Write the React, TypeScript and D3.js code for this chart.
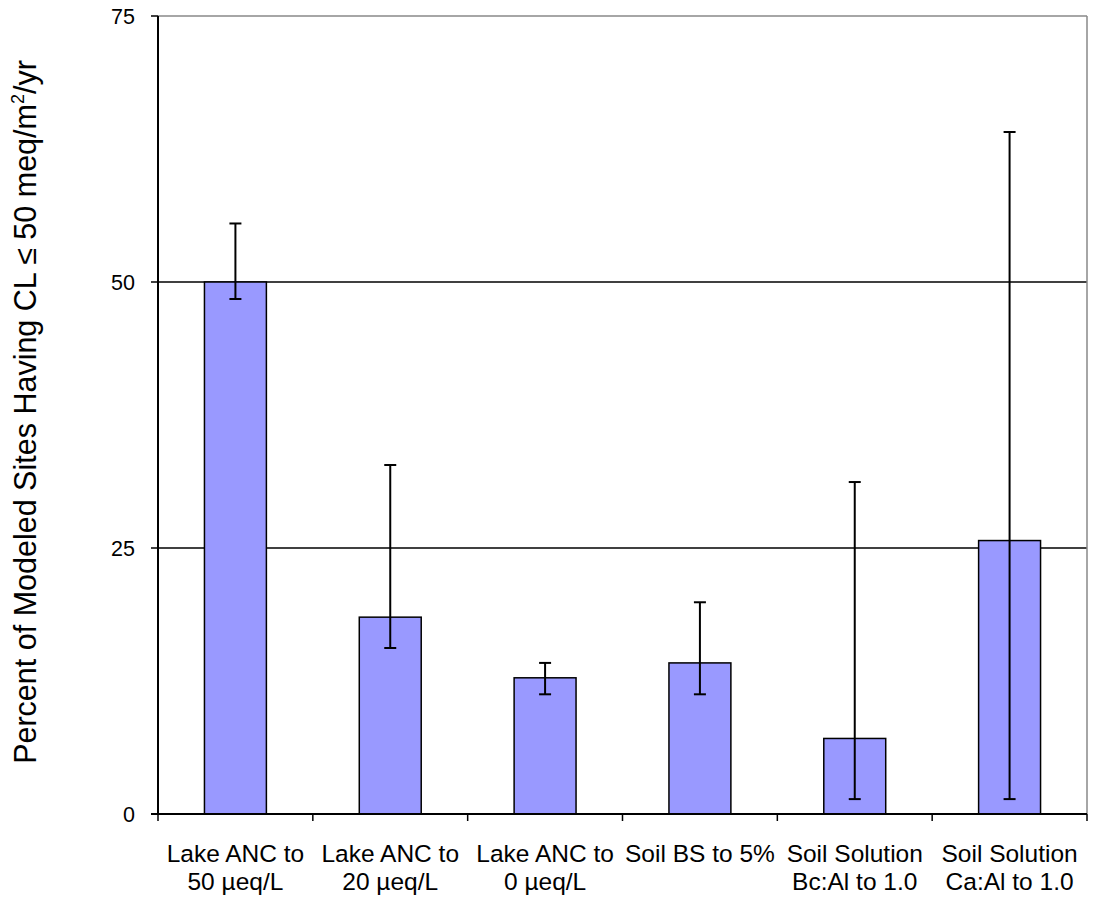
import React from "react";
import * as d3 from "d3";

const categories: string[][] = [
  ["Lake ANC to", "50 µeq/L"],
  ["Lake ANC to", "20 µeq/L"],
  ["Lake ANC to", "0 µeq/L"],
  ["Soil BS to 5%"],
  ["Soil Solution", "Bc:Al to 1.0"],
  ["Soil Solution", "Ca:Al to 1.0"],
];
const values: number[] = [50, 18.5, 12.8, 14.2, 7.1, 25.7];
const errHigh: number[] = [55.5, 32.8, 14.2, 19.9, 31.2, 64.1];
const errLow: number[] = [48.4, 15.6, 11.25, 11.25, 1.4, 1.4];
const yTicks: number[] = [0, 25, 50, 75];

const W = 1093;
const H = 899;
const left = 158;
const right = 1087;
const top = 16;
const bottom = 814;
const FONT = "'Liberation Sans', Arial, sans-serif";

export default function App() {
  const idx = categories.map((_, i) => String(i));
  const x = d3.scaleBand<string>().domain(idx).range([left, right]).paddingInner(0.6).paddingOuter(0.3);
  const y = d3.scaleLinear().domain([0, 75]).range([bottom, top]);
  const step = x.step();
  const bw = x.bandwidth();
  const off = (step - bw) / 2;
  const boundaries = idx.map((d) => (x(d) as number) - off).concat([right]);

  return (
    <svg width={W} height={H} style={{ position: "absolute", left: 0, top: 0, background: "#fff" }}>
      {/* gridlines */}
      {yTicks.filter((t) => t > 0 && t < 75).map((t) => (
        <line key={"g" + t} x1={left} x2={right} y1={y(t)} y2={y(t)} stroke="#000" strokeWidth={1.5} />
      ))}
      {/* plot frame top/right */}
      <line x1={left} x2={right} y1={y(75)} y2={y(75)} stroke="#888" strokeWidth={1.5} />
      <line x1={right} x2={right} y1={y(75)} y2={bottom} stroke="#888" strokeWidth={1.5} />

      {/* bars */}
      {values.map((v, i) => (
        <rect key={"b" + i} x={x(String(i))} y={y(v)} width={bw} height={bottom - y(v)}
          fill="#9999FF" stroke="#000" strokeWidth={1.5} />
      ))}

      {/* error bars */}
      {values.map((_, i) => {
        const cx = (x(String(i)) as number) + bw / 2;
        return (
          <g key={"e" + i} stroke="#000" strokeWidth={2}>
            <line x1={cx} x2={cx} y1={y(errHigh[i])} y2={y(errLow[i])} />
            <line x1={cx - 6} x2={cx + 6} y1={y(errHigh[i])} y2={y(errHigh[i])} />
            <line x1={cx - 6} x2={cx + 6} y1={y(errLow[i])} y2={y(errLow[i])} />
          </g>
        );
      })}

      {/* y axis */}
      <line x1={left} x2={left} y1={top} y2={bottom} stroke="#000" strokeWidth={2} />
      {yTicks.map((t) => (
        <g key={"t" + t}>
          <line x1={left - 7} x2={left} y1={y(t)} y2={y(t)} stroke="#000" strokeWidth={1.5} />
          <text x={135} y={y(t)} dy="0.36em" textAnchor="end" fontFamily={FONT} fontSize={21.5} fill="#000">
            {t}
          </text>
        </g>
      ))}

      {/* x axis */}
      <line x1={left - 7} x2={right} y1={bottom} y2={bottom} stroke="#000" strokeWidth={2} />
      {boundaries.map((b, i) => (
        <line key={"xt" + i} x1={b} x2={b} y1={bottom} y2={bottom + 7} stroke="#000" strokeWidth={1.5} />
      ))}
      {categories.map((lines, i) => {
        const cx = (x(String(i)) as number) + bw / 2;
        return (
          <text key={"l" + i} x={cx} y={862} textAnchor="middle" fontFamily={FONT} fontSize={24.5} fill="#000">
            {lines.map((ln, j) => (
              <tspan key={j} x={cx} y={862 + j * 28}>{ln}</tspan>
            ))}
          </text>
        );
      })}

      {/* y axis title */}
      <text transform={`translate(36, 412) rotate(-90)`} textAnchor="middle" fontFamily={FONT} fontSize={30.5} fill="#000">
        Percent of Modeled Sites Having CL ≤ 50 meq/m
        <tspan fontSize={18} dy={-12}>2</tspan>
        <tspan dy={12}>/yr</tspan>
      </text>
    </svg>
  );
}
